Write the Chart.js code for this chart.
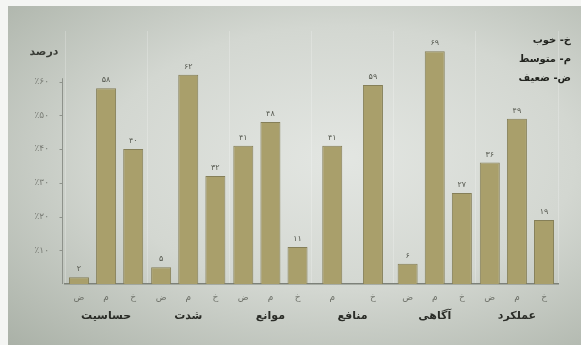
<!DOCTYPE html>
<html>
<head>
<meta charset="utf-8">
<script src="https://cdn.jsdelivr.net/npm/chart.js@4"></script>
<style>
  html, body { margin: 0; padding: 0; background: #f4f5f3; }
  #wrap { position: absolute; left: 8px; top: 6px; right: 0; bottom: 0;
    background: radial-gradient(ellipse at 58% 45%, #e3e6e2 0%, #d3d7d1 50%, #aab1a7 100%); }
  #box { position: absolute; left: 0; top: 0; width: 581px; height: 345px; }
</style>
</head>
<body>
<div id="wrap"></div>
<div id="box"><canvas id="grafico" width="581" height="345"></canvas></div>
<script>
// گروه‌ها و مقادیر (درصد)
const grupos = ['حساسیت', 'شدت', 'موانع', 'منافع', 'آگاهی', 'عملکرد'];
const zaeef  = [2, 5, 41, null, 6, 36];     // ض
const motavaset = [58, 62, 48, 41, 69, 49]; // م
const khoob  = [40, 32, 11, 59, 27, 19];    // خ
const letras = ['ض', 'م', 'خ'];
const legenda = ['خ- خوب', 'م- متوسط', 'ض- ضعیف'];
const ticksY = [10, 20, 30, 40, 50, 60];

const fa = v => String(v).replace(/\d/g, d => '۰۱۲۳۴۵۶۷۸۹'[d]);
const fonte = 'DejaVu Sans';

const corBarra = '#a99f6b';
const corBorda = '#857f58';

const textos = {
  id: 'textos',
  afterDatasetsDraw(chart) {
    const { ctx, chartArea, scales } = chart;
    ctx.save();
    // eixo y até 60
    ctx.strokeStyle = '#8e928b';
    ctx.lineWidth = 1;
    const xa = chartArea.left - 2.5;
    ctx.beginPath();
    ctx.moveTo(xa, scales.y.getPixelForValue(61));
    ctx.lineTo(xa, chartArea.bottom);
    ctx.stroke();
    ticksY.forEach(t => {
      const yy = Math.round(scales.y.getPixelForValue(t)) + 0.5;
      ctx.beginPath(); ctx.moveTo(xa - 3, yy); ctx.lineTo(xa, yy); ctx.stroke();
    });
    // valores e letras
    chart.data.datasets.forEach((ds, i) => {
      const meta = chart.getDatasetMeta(i);
      meta.data.forEach((bar, j) => {
        const v = ds.data[j];
        if (v === null || v === undefined) return;
        ctx.fillStyle = '#55584f';
        ctx.font = '8px ' + fonte;
        ctx.textAlign = 'center';
        ctx.textBaseline = 'bottom';
        ctx.fillText(fa(v), bar.x, bar.y - 4);
        ctx.fillStyle = '#6d7068';
        ctx.font = '9px ' + fonte;
        ctx.textBaseline = 'middle';
        ctx.fillText(letras[i], bar.x, chartArea.bottom + 14);
      });
    });
    // título do eixo
    ctx.fillStyle = '#3a3d37';
    ctx.font = 'bold 11px ' + fonte;
    ctx.textAlign = 'center';
    ctx.textBaseline = 'middle';
    ctx.fillText('درصد', 44, 52);
    // legenda
    ctx.direction = 'rtl';
    ctx.textAlign = 'right';
    ctx.font = 'bold 10px ' + fonte;
    ctx.fillStyle = '#22241f';
    legenda.forEach((t, k) => ctx.fillText(t, 571, 40 + k * 19));
    ctx.restore();
  }
};

const ctx = document.getElementById('grafico').getContext('2d');
new Chart(ctx, {
  type: 'bar',
  data: {
    labels: grupos,
    datasets: [zaeef, motavaset, khoob].map((d, i) => ({
      label: letras[i],
      data: d,
      backgroundColor: corBarra,
      borderColor: corBorda,
      borderWidth: 1,
      skipNull: true,
      maxBarThickness: 20,
      barPercentage: 0.74,
      categoryPercentage: 0.99
    }))
  },
  options: {
    responsive: false,
    animation: false,
    layout: { padding: { left: 30, right: 23, top: 31, bottom: 0 } },
    plugins: { legend: { display: false }, tooltip: { enabled: false } },
    scales: {
      x: {
        afterFit: s => { s.height = 61; },
        grid: { display: true, offset: true, drawTicks: false, color: 'rgba(255,255,255,0.22)' },
        border: { display: true, color: '#7d8179', width: 1.5 },
        ticks: {
          color: '#2a2c27',
          font: { family: fonte, size: 11, weight: 'bold' },
          padding: 26
        }
      },
      y: {
        min: 0,
        max: 75,
        afterFit: s => { s.width = 35; },
        grid: { display: false },
        border: { display: false },
        ticks: {
          stepSize: 10,
          color: '#7a7d76',
          font: { family: fonte, size: 9 },
          padding: 8,
          callback: v => ticksY.includes(v) ? '٪' + fa(v) : ''
        }
      }
    }
  },
  plugins: [textos]
});
</script>
</body>
</html>
